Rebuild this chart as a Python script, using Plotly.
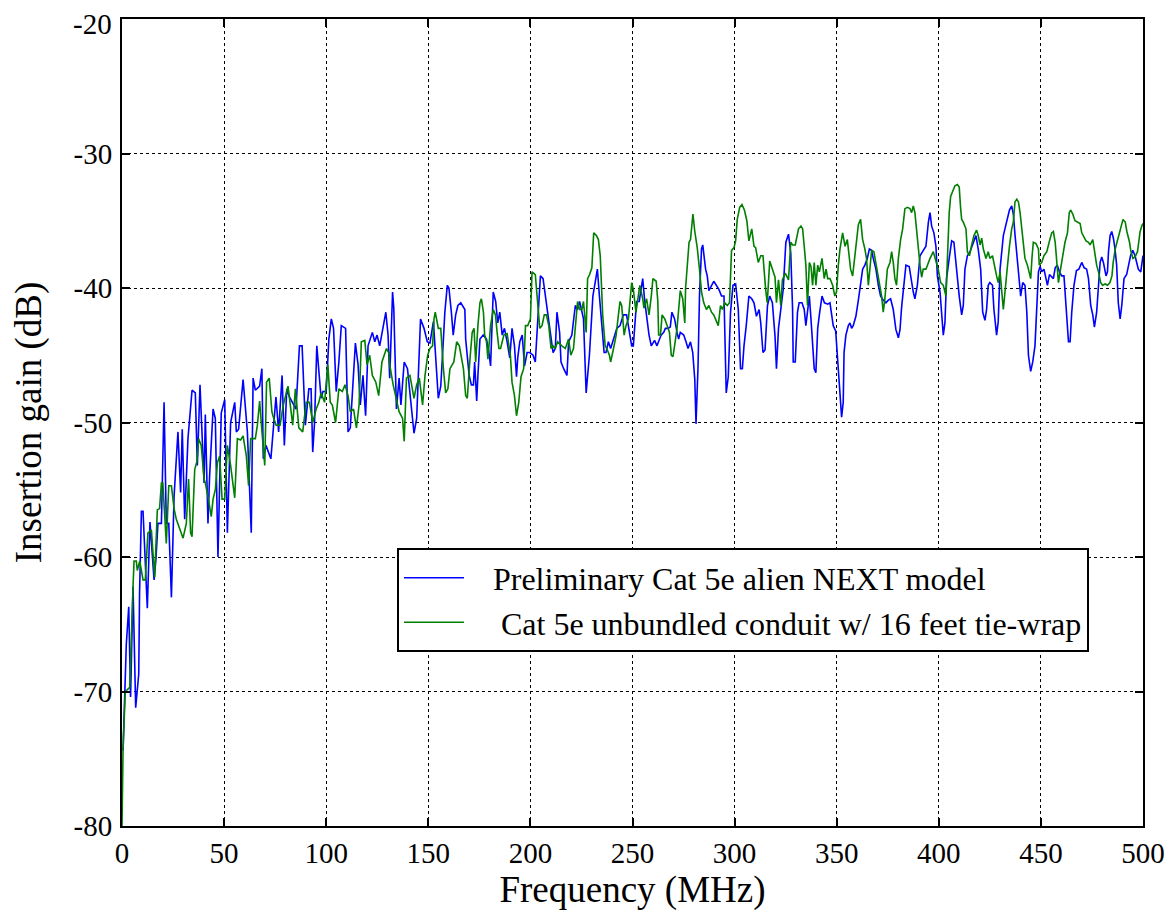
import plotly.graph_objects as go

# ---- data ----
blue_pts = [
(0.5,-74.4),(2.1,-66.5),(3.3,-63.7),(4.2,-70.4),(5.4,-62.2),(6.7,-71.2),(8.2,-68.7),(8.6,-62.7),(9.5,-56.6),(10.3,-56.6),
(12.4,-63.8),(13.7,-57.4),(15.7,-61.7),(16.6,-60.2),(17.6,-57.5),(19.3,-57.5),(20.6,-48.5),(21.7,-57.5),(22.9,-57.5),(24.2,-63),
(25.5,-55.5),(27.4,-50.7),(28.7,-55.2),(29.5,-50.5),(30.7,-57.2),(32.3,-51.2),(34.3,-47.6),(35.9,-47.8),(36.9,-53.2),(38.2,-47.2),
(40.2,-54.5),(40.8,-49.4),(42.1,-57.5),(42.9,-54),(44.6,-49),(45.7,-49.7),(47,-60),(48.6,-49.3),(50.3,-48.3),(51.6,-58.2),
(53.2,-50),(55.2,-48.5),(56,-50.7),(57.1,-50.5),(59.3,-46.8),(61.4,-50.7),(63.3,-58.2),(64.2,-46.7),(65.3,-47.6),(67.4,-47.3),
(68.5,-46),(69.2,-52.7),(70.5,-51.7),(72.9,-52.7),(75.4,-48.1),(76.7,-50.7),(78.4,-46.5),(79.5,-51.7),(80.7,-47.5),(82,-48.1),
(85.2,-49),(86.9,-44.3),(88.2,-44.3),(89.8,-50.2),(91.5,-47.5),(92.6,-47.5),(93.4,-52.2),(94.3,-50),(95.4,-44.3),(96.7,-46.5),
(97.5,-48.2),(98.4,-47.7),(100,-47.7),(101.3,-43.8),(102.5,-42.3),(103.6,-43),(104.9,-47.7),(106.2,-45.5),(107.4,-42.8),(109.5,-43),
(110.7,-50.7),(111.8,-50.4),(113.1,-46.7),(114.3,-44.1),(115.6,-45.7),(116.7,-48.7),(118,-46.5),(119.3,-49.5),(120.5,-44.3),(122.6,-43.3),
(123.8,-44),(124.9,-43.5),(126.2,-44.3),(128.2,-42.8),(129.2,-41.8),(130.3,-43.5),(131.1,-46.7),(132.5,-40.3),(133.1,-41.5),(134.4,-49),
(135.7,-46.7),(136.6,-48.7),(138.2,-45.5),(139.8,-46),(143,-50.8),(144.3,-49.7),(146.2,-42.3),(147.9,-43),(149.5,-44),(150.8,-44.1),
(152.5,-42.5),(154.9,-48.2),(156.1,-47.3),(157.4,-43.8),(158.1,-41.8),(159.3,-39.8),(160.1,-40),(161.3,-41.8),(162.2,-43.5),(163.4,-42),
(164.5,-41.3),(165.9,-41.1),(166.7,-41.3),(167.9,-41.6),(168.3,-43.8),(170,-46.5),(171.1,-47.2),(172.1,-47.2),(172.7,-45.5),(173.7,-48.4),
(174.3,-46.5),(175.3,-43.8),(176.9,-43.5),(178.5,-43.8),(179.7,-44.8),(180.5,-45.8),(181.8,-40.3),(183,-41),(184,-42.6),(185,-41.8),
(186.2,-43.5),(187.3,-43),(188.6,-44),(189.9,-45.2),(191,-43),(192.2,-44.3),(193.2,-46.6),(193.8,-45.2),(194.8,-44),(196,-43.5),
(197.1,-45.8),(198.4,-44.8),(199.7,-44.8),(201.3,-45),(202.4,-45.5),(203.6,-42.8),(204.9,-39.1),(206.2,-39.3),(207.3,-40.6),(208.5,-42),
(209.8,-43.3),(211.1,-44.8),(212.2,-44.5),(213,-41.8),(214.3,-43.3),(215,-45.5),(216.3,-46),(217.9,-46.5),(218.7,-44),(220.3,-43.5),
(222,-41.3),(223.1,-41.6),(224.1,-41),(225.2,-41.8),(226,-42.3),(227.3,-47.8),(228.9,-45),(230.6,-40.6),(231.7,-39.6),(232.8,-38.6),
(233.8,-40.6),(235.4,-44),(236.1,-44.8),(237,-44.8),(238.2,-44),(239.3,-44.5),(240.7,-43.8),(242.3,-43),(243.9,-42.8),(245.5,-42),
(247.1,-42),(248.5,-43.3),(249.6,-44.3),(250.4,-44.3),(252,-41),(253.3,-41),(255,-39.3),(256,-41),(256.9,-42.3),(258.1,-43.5),
(259.2,-44.3),(260.8,-43.9),(262,-44.3),(262.8,-44),(264,-43.5),(265.3,-43.3),(266.1,-43),(267.4,-43),(268.5,-42.9),(269.3,-41.8),
(270.6,-42.3),(271.8,-43.3),(272.6,-43.8),(273.4,-43.3),(275.1,-43.5),(276.2,-44),(277.2,-44.5),(278.4,-44),(279.5,-44.8),(280.5,-46.8),
(281.1,-50.1),(282.1,-45.8),(282.8,-40.6),(283.8,-37.1),(284.4,-36.8),(285.8,-38.6),(286.6,-39.1),(287.4,-40.2),(288.7,-39.8),(289.8,-39.5),
(292.3,-40.1),(293.6,-40.6),(294.8,-40.6),(295.9,-47.8),(296.9,-46.6),(298,-41.8),(299.2,-39.8),(300.5,-39.7),(301.8,-41.6),(302.9,-46),
(303.8,-46),(304.6,-44.3),(305.7,-42.8),(307,-40.6),(308.4,-40.8),(309.5,-41.1),(310.7,-42.1),(312,-41.6),(312.8,-42.6),(313.9,-44.8),
(314.9,-44.6),(316.1,-41.3),(317.2,-40.6),(318.5,-41.1),(319.8,-43.6),(320.5,-46),(321.5,-43),(322.6,-41.5),(323.8,-40.1),(325.1,-36.6),
(326.4,-36),(327.5,-37.4),(328.4,-41.6),(328.7,-45.5),(329.7,-45.5),(330.8,-41.8),(331.6,-41.1),(333,-41.1),(334.1,-41.6),(334.9,-42.8),
(336.6,-40.6),(337.4,-42.3),(338.2,-44),(339,-46),(339.8,-46.3),(340.7,-43),(341.5,-42),(342.8,-40.6),(344,-41.1),(345.6,-41.2),
(346.7,-41.1),(348.3,-42.8),(349.5,-43.2),(350.8,-46),(351.6,-48),(352.4,-49.6),(353.2,-48.5),(353.6,-44.8),(354.5,-43.5),(355.7,-42.8),
(356.5,-42.6),(357.3,-43),(358.1,-42.8),(359.4,-42.1),(360.6,-40.9),(361.7,-39.8),(362.7,-38.6),(363.8,-38.3),(365,-37.8),(366,-37.1),
(367.1,-37.2),(367.9,-37.8),(369.2,-38.6),(370.4,-39.8),(371.5,-40.6),(372.8,-40.9),(374.1,-41.1),(375.3,-40.9),(376.4,-40.8),(377.7,-41.6),
(379,-43.1),(380.2,-43.7),(381,-43.1),(381.8,-41.4),(383,-39.6),(383.9,-38.3),(385.5,-38.4),(386.7,-39.6),(387.5,-40.3),(388.3,-40.8),
(389.5,-39.8),(390.8,-37.6),(392.1,-37.3),(393.7,-36.9),(394.9,-35.1),(395.7,-34.4),(396.5,-35.4),(397.6,-35.9),(398.6,-36.9),(399.3,-39.1),
(400.6,-40.3),(401.4,-42),(402.2,-43.5),(403,-42.6),(403.8,-39.3),(405.1,-37.8),(406.3,-36.5),(407.4,-36.6),(408.7,-38.8),(410,-40.6),
(411.2,-42),(412,-41.3),(412.8,-38.6),(414,-37.6),(415.3,-37.3),(416.9,-36.6),(418.2,-36.1),(419.3,-37.1),(420.5,-38.6),(421.5,-41.8),
(422.6,-42.4),(423.4,-41.6),(424.2,-39.8),(425,-39.6),(426.3,-39.8),(427,-41.6),(428.3,-43.5),(429.1,-42.5),(430,-38.6),(431.6,-36.1),
(432.4,-35.6),(433.6,-34.8),(434.6,-34.2),(435.7,-33.9),(436.5,-34.5),(437.3,-36),(438.2,-37.5),(439,-39.2),(440.1,-40.6),(441.1,-39.6),
(442.2,-39.8),(443.1,-41.8),(443.9,-45),(445,-46.2),(446,-45.5),(447.1,-44.3),(448,-41.3),(448.8,-38.8),(449.6,-38.4),(450.4,-38.8),
(451.5,-38.6),(452.5,-39.3),(453.2,-39.8),(454.2,-39),(455.3,-39.2),(456.1,-39.3),(457,-38.5),(458,-38.3),(459.1,-38.8),(460.2,-39.1),
(461.3,-39.1),(462.3,-41.1),(463.5,-44),(464.3,-44),(465.1,-41.8),(466.2,-39.8),(467.4,-38.7),(468.6,-38.6),(470,-38.1),(471.2,-38.5),
(472.4,-38.6),(473.3,-39.3),(474.4,-41.3),(475.4,-42),(476.2,-42.9),(477.3,-41.8),(478.2,-40.1),(479,-38.1),(479.8,-37.7),(480.6,-38.1),
(481.9,-39.1),(482.6,-38.8),(483.1,-37.3),(483.9,-36.1),(484.7,-35.8),(485.5,-36.3),(486.3,-37.1),(487.1,-38.3),(487.9,-41.1),(488.8,-42.3),
(489.6,-41.3),(490.7,-39.3),(492,-39),(492.8,-38.3),(493.9,-37.6),(495,-37.2),(496.1,-37.6),(496.9,-38.1),(497.7,-38.6),(498.9,-38.8),
(500,-37.6)]

green_pts = [
(0,-80),(0.5,-74.4),(1.6,-70),(3.8,-69.7),(5.4,-62.2),(5.9,-60.3),(7.0,-60.3),(7.5,-61),(8.7,-60.3),(9.1,-60.7),
(10.3,-61.7),(11.4,-61.7),(12.7,-58.2),(14.4,-58),(16,-61.5),(17.3,-56.5),(18.4,-56.4),(19.3,-54.5),(20,-54.5),(21.7,-59),
(22.9,-54.7),(24.2,-54.7),(25.5,-56.4),(26.6,-57.2),(27.8,-57.7),(29.9,-58.6),(31.5,-57.5),(32.6,-54.2),(33.6,-58.2),(34.3,-58.5),
(35.6,-53.5),(36.7,-52.9),(37.5,-51.2),(38.8,-51.7),(40.2,-54.2),(40.8,-54.5),(42.1,-55.5),(43.7,-57),(44.6,-55.7),(45.7,-55),
(46.7,-53),(47.8,-52.5),(49,-55.7),(50.3,-55.7),(51.6,-51.7),(53.2,-53.2),(55.2,-55.6),(56.5,-51.2),(58.1,-51.3),(59.3,-51),
(60.9,-52.5),(62,-54.7),(63,-51.2),(64.2,-51.2),(65.3,-51.2),(66.3,-50.2),(67.4,-48.4),(68.6,-50.8),(69.9,-53.2),(70.8,-47),
(72.1,-46.7),(73.4,-49.2),(73.9,-49.5),(75.5,-50.2),(77.4,-50.2),(79,-48.7),(81.3,-47.3),(83.6,-50.2),(84.9,-47.5),(86.6,-50.4),
(88.5,-50.7),(90.2,-48.5),(91.8,-48.5),(93.4,-50),(95.1,-49),(96.4,-48.5),(97.5,-47.8),(99.2,-48.5),(100.8,-45.7),(102,-48.5),
(103,-48.7),(104.6,-50),(106.2,-47.5),(107.9,-47.7),(109.2,-47.2),(110.7,-48),(111.8,-49.2),(113.4,-49),(114.8,-50.4),(116.1,-48.7),
(117.2,-44),(118.9,-43.9),(120,-45.7),(121.3,-45),(122.6,-46.5),(124.3,-47),(125.7,-48),(127.3,-45.5),(129.5,-44.5),(130.6,-44.8),
(131.1,-45.7),(132.8,-47.2),(134.4,-48.4),(135.7,-49.2),(137.4,-49.7),(138.2,-51.4),(139.3,-46.7),(141,-46.5),(143,-48.2),(144.3,-47.2),
(145.6,-46.7),(147.2,-48.7),(148.4,-46.5),(149.7,-45),(150.8,-44.5),(152.1,-44.3),(152.8,-42.3),(153.4,-41.8),(154.9,-43),(156.1,-43),
(157.4,-46),(158.5,-47.8),(159.6,-47.5),(160.6,-46),(162.5,-45.5),(163.9,-44),(165.2,-44.3),(167.2,-46),(168.3,-48),(169.1,-48.2),
(170.4,-45.3),(171.5,-43.3),(172.4,-43),(173.2,-45.5),(174.3,-42.8),(175.3,-41.1),(176,-40.8),(177,-41.8),(177.6,-43.5),(178.5,-44),
(179.2,-45.3),(180.5,-42.8),(181.8,-41.6),(182.9,-42),(183.7,-43.3),(184.6,-44.5),(185.4,-44.5),(187,-43.5),(188.6,-43.4),(190.2,-45),
(191,-47),(192.2,-48),(193.2,-49.5),(194.3,-48.5),(195.4,-46.6),(196.7,-46),(197.6,-42.8),(198.7,-42.8),(200,-42.3),(200.8,-38.8),
(202.4,-39),(203.6,-41.6),(204.6,-43),(205.7,-42.8),(206.8,-42),(207.8,-42),(209,-42.8),(210.1,-44.5),(211.1,-44.3),(212.2,-44.5),
(213.3,-44),(215.4,-44.3),(217.1,-44.5),(218.7,-43.8),(219.8,-45),(221.1,-44.5),(222,-43),(223.1,-41),(224.1,-41.6),(225.2,-41.6),
(226,-41),(227.3,-43.3),(228,-39.3),(229,-39),(230.1,-38.5),(231,-35.9),(232.3,-36.1),(233.3,-36.4),(234.2,-37.6),(235.4,-42),
(236.6,-44.3),(237.4,-44.5),(238.7,-45),(239.3,-45.5),(240.7,-44.5),(242,-43.5),(243.1,-42),(243.9,-41),(244.7,-41.3),(245.9,-43.5),
(246.8,-42.8),(248,-42.3),(249.6,-39.6),(250.4,-40.1),(251.7,-41.8),(252.9,-40.6),(253.6,-39.8),(255,-40.8),(255.6,-41.5),(256.9,-40.8),
(258.1,-42),(259.2,-40.6),(260,-39.3),(261.6,-39.5),(262.4,-41),(262.8,-43.5),(263.7,-43.5),(264.5,-42),(265.8,-42.3),(267,-42.8),
(268.1,-43.3),(269,-45),(269.8,-45.1),(270.6,-44.3),(271.8,-43),(272.6,-41.6),(273.4,-40.2),(274.6,-40.8),(275.6,-42.6),(276,-40),
(277,-37.8),(277.7,-36.6),(278.4,-36.4),(279.2,-35.1),(279.6,-34.5),(280.5,-35.8),(281.7,-37),(282.8,-38.6),(283.8,-40.3),(284.9,-41.1),
(286.2,-41.6),(287.4,-41.3),(288.7,-41.8),(289.8,-42),(291,-42.5),(292,-42.8),(293.1,-41.3),(294,-41.6),(295.2,-41.1),(296.4,-41.3),
(297.5,-41.1),(298.5,-37.2),(299.7,-37),(300.5,-36.5),(301.3,-34.9),(302.5,-34),(303.6,-33.8),(304.8,-34.2),(306,-35),(307,-36.5),
(308.4,-35.6),(309.5,-36.9),(310.3,-37),(311.6,-38.1),(312.8,-37.6),(313.9,-37.6),(315.2,-40.1),(316,-41.1),(317.2,-38),(318.5,-38.6),
(319.8,-39.2),(320.5,-41.1),(321.5,-39.4),(322.6,-41.3),(323.4,-39.4),(324.8,-38.9),(325.4,-39.1),(326.4,-39.4),(327.5,-36.6),(328.4,-36.8),
(329.7,-36.8),(331.3,-35.6),(332.5,-35.4),(333.3,-35.6),(334.1,-36.9),(334.9,-38.3),(335.7,-41.3),(336.6,-38.1),(337.4,-38.4),(338.2,-39.8),
(339,-38.1),(339.8,-39.8),(340.7,-38.3),(341.5,-38.8),(342.8,-37.8),(343.9,-39.3),(344.8,-38.6),(345.6,-39.3),(346.7,-39.3),(348,-39.8),
(349.1,-40.6),(349.9,-40.3),(350.8,-38.3),(351.6,-37.1),(352.9,-35.9),(354.1,-36.9),(355.2,-36.4),(356.2,-37.6),(356.8,-38.6),(357.8,-39.1),
(359,-37.3),(359.8,-36.1),(360.6,-35.3),(361.7,-34.9),(362.7,-36.4),(363.8,-37.1),(364.6,-37.8),(365.5,-39.8),(366.3,-38.3),(367.1,-37.2),
(368.2,-37.3),(369.6,-38.6),(370.9,-39.8),(372,-40.6),(372.8,-41.8),(373.6,-40.8),(374.8,-38.6),(376.1,-38.1),(376.9,-37.3),(377.7,-38.1),
(378.5,-39.3),(379.3,-39.8),(380.2,-37.8),(381.3,-36.4),(382.3,-35.6),(383.4,-34.1),(384.6,-34),(385.9,-34.1),(386.7,-34.4),(387.5,-33.9),
(388.3,-34.4),(389.1,-35.6),(389.9,-37.3),(390.8,-38.3),(391.6,-39.2),(392.4,-38.6),(393.7,-38.6),(394.9,-38.1),(395.7,-37.8),(397.3,-37.3),
(398.6,-38.1),(399.7,-38.6),(400.9,-39.6),(402.2,-39.8),(403.5,-40.6),(404.2,-37.1),(405.1,-34.4),(405.8,-33.2),(406.8,-32.8),(407.9,-32.4),
(409.1,-32.3),(410,-32.5),(410.7,-34.1),(411.2,-34.9),(412,-35.1),(413.3,-35.6),(414,-37.3),(415,-37.6),(416.1,-36.8),(417.2,-36.1),
(418.5,-35.7),(419.3,-36.1),(420.2,-36.8),(421,-36.3),(421.8,-37.1),(423.1,-37.8),(424.2,-37.3),(425,-37.8),(426.3,-37.6),(427.5,-38.6),
(428.3,-39.1),(429.1,-39.6),(430,-38.8),(431.6,-41.6),(432.4,-40.1),(433.6,-38.4),(434.6,-36.9),(435.7,-35.6),(436.5,-35.1),(437.3,-33.6),
(438.2,-33.4),(439,-33.6),(439.8,-34.4),(440.6,-35.6),(441.4,-36.9),(442.2,-37.8),(443.4,-38.3),(444.4,-39.1),(445,-39.3),(445.7,-37.6),
(446.3,-36.6),(447.6,-36.7),(448.8,-37.1),(449.2,-38.3),(450.4,-38.1),(451.5,-37.6),(452.9,-37.3),(454.2,-36.5),(455.3,-35.9),(456.1,-35.8),
(457,-36.6),(457.8,-38.1),(458.6,-39.6),(459.4,-38.8),(460.2,-38.1),(461,-37.3),(461.8,-36.6),(463,-35.9),(463.9,-34.4),(464.6,-34.2),
(465.6,-34.5),(466.7,-35),(467.9,-35.1),(469.2,-35.2),(470,-35.9),(470.8,-36.1),(472.1,-36.5),(473.3,-36.6),(474.1,-36.8),(475.4,-36.4),
(476.5,-37.6),(477.3,-38.3),(478.2,-38.8),(479.3,-39.6),(480.2,-39.8),(481.5,-39.7),(482.6,-39.8),(483.8,-39.6),(484.8,-39.1),(485.4,-38.1),
(486.4,-37.1),(487.5,-36.4),(489.1,-35.6),(490.2,-34.9),(491.3,-35.1),(492.1,-35.8),(493.4,-36.6),(494.1,-37.3),(495.1,-37.8),(496.1,-37.7),
(497.3,-37.3),(498.6,-35.8),(499.4,-35.4),(500,-35.2)]

freq_blue = [p[0] for p in blue_pts]
gain_blue = [p[1] for p in blue_pts]
freq_green = [p[0] for p in green_pts]
gain_green = [p[1] for p in green_pts]

series_names = ["Preliminary Cat 5e alien NEXT model",
                " Cat 5e unbundled conduit w/ 16 feet tie-wrap"]
LEGEND_PAD = "\u00a0\u00a0\u00a0"   # visual gap between line sample and text
x_ticks = [0, 50, 100, 150, 200, 250, 300, 350, 400, 450, 500]
x_labels = ["0", "50", "100", "150", "200", "250", "300", "350", "400", "450", "500"]
y_ticks = [-80, -70, -60, -50, -40, -30, -20]
y_labels = ["-80", "-70", "-60", "-50", "-40", "-30", "-20"]

FONT = "Liberation Serif, Times New Roman, serif"

fig = go.Figure()
fig.add_trace(go.Scatter(x=freq_blue, y=gain_blue, mode="lines", name=LEGEND_PAD + series_names[0],
                         line=dict(color="#0000ff", width=1.6)))
fig.add_trace(go.Scatter(x=freq_green, y=gain_green, mode="lines", name=LEGEND_PAD + series_names[1],
                         line=dict(color="#007f00", width=1.6)))

axis_common = dict(showline=True, linecolor="black", linewidth=2, mirror="ticks",
                   ticks="inside", ticklen=8, tickwidth=1.5, tickcolor="black",
                   showgrid=True, gridcolor="black", gridwidth=1, griddash="dot",
                   zeroline=False, automargin=False,
                   tickfont=dict(family=FONT, size=29, color="black"))

fig.update_xaxes(range=[0, 500], tickvals=x_ticks, ticktext=x_labels, ticklabelstandoff=0,
                 title=dict(text="Frequency (MHz)", font=dict(family=FONT, size=37, color="black"), standoff=5),
                 **axis_common)
# the top label (-20) sits right at the page edge; it is drawn as an annotation nudged slightly down
fig.update_yaxes(range=[-80, -20], tickvals=y_ticks,
                 ticktext=y_labels[:-1] + [""], ticklabelstandoff=2,
                 title=dict(text="Insertion gain (dB)", font=dict(family=FONT, size=37, color="black"), standoff=23),
                 **axis_common)
fig.add_annotation(x=0, xref="paper", y=y_ticks[-1], yref="y", text=y_labels[-1],
                   showarrow=False, xanchor="right", yanchor="middle", xshift=-8, yshift=-5,
                   font=dict(family=FONT, size=29, color="black"))

# The page adds an 8 px body margin, so margins are shifted by that amount
fig.update_layout(
    width=1173, height=914,
    margin=dict(l=114, r=38, t=11, b=96, autoexpand=False),
    paper_bgcolor="white", plot_bgcolor="white",
    font=dict(family=FONT, color="black"),
    legend=dict(x=0.2693, y=0.344, xanchor="left", yanchor="top",
                bgcolor="white", bordercolor="black", borderwidth=2,
                font=dict(family=FONT, size=32, color="black"),
                itemwidth=60, tracegroupgap=0),
    showlegend=True,
)

fig.write_html("out.html")
